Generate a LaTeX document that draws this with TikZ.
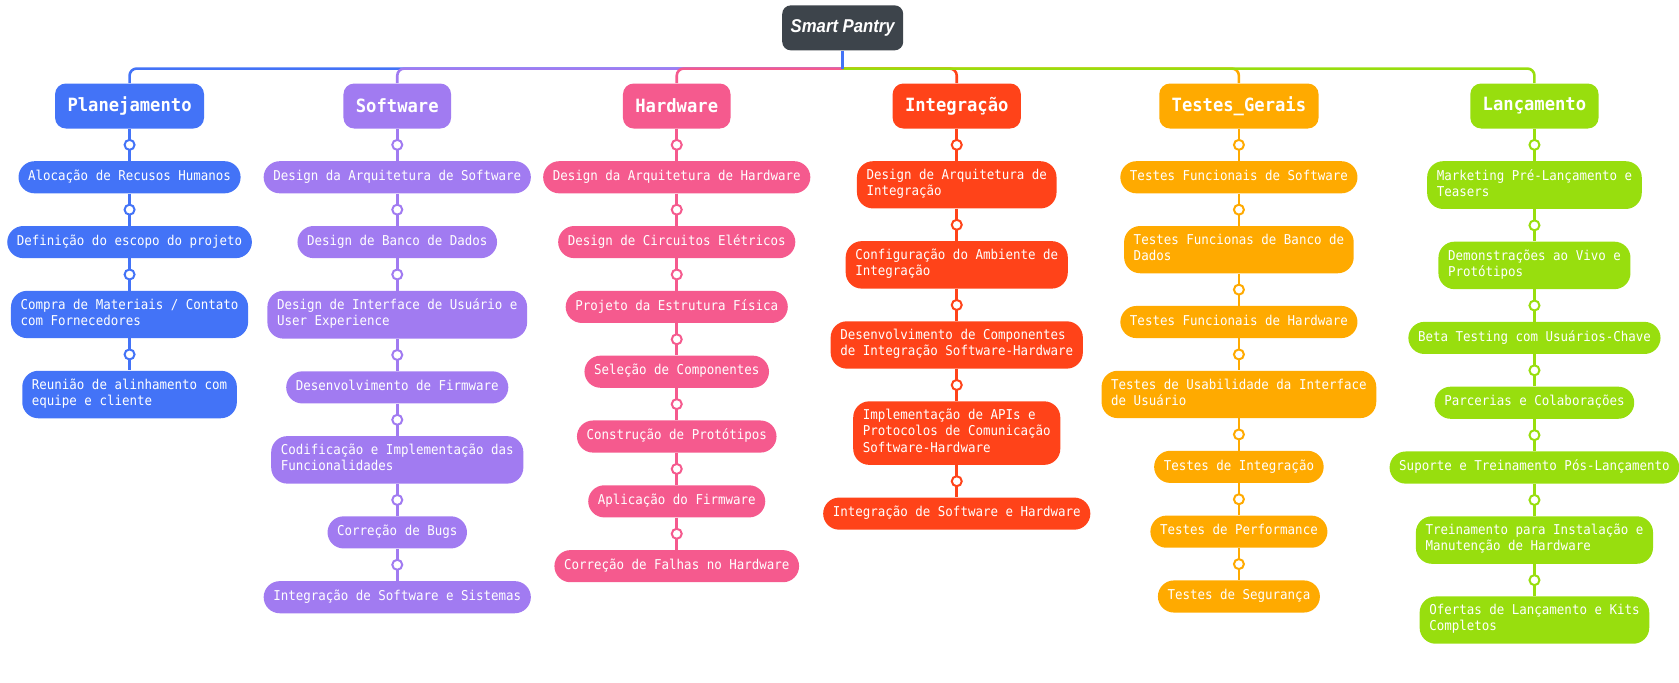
\documentclass[tikz,border=0pt]{standalone}
\usepackage{fontspec}
\setmonofont{DejaVu Sans Mono}
\newfontfamily\pantryfont[FakeStretch=0.9]{Liberation Sans}
\newfontfamily\taskfont[FakeStretch=0.92]{DejaVu Sans Mono}
\newfontfamily\headfont[FakeStretch=0.94]{DejaVu Sans Mono}
\usetikzlibrary{positioning}

\definecolor{pantrygray}{HTML}{3D444B}
\definecolor{plblue}{HTML}{4373F7}
\definecolor{swpurple}{HTML}{A17BF1}
\definecolor{hwpink}{HTML}{F55A8E}
\definecolor{inred}{HTML}{FF4319}
\definecolor{tsorange}{HTML}{FFAA00}
\definecolor{lcgreen}{HTML}{98DE0E}

\begin{document}
\begin{tikzpicture}[x=0.75pt,y=-0.75pt,node distance=22.5pt,
    root/.style={fill=pantrygray,text=white,rounded corners=6pt,minimum width=84.75pt,
        minimum height=31.5pt,font=\pantryfont\bfseries\itshape\fontsize{13}{15}\selectfont},
    head/.style={fill=#1,text=white,rounded corners=7.5pt,minimum height=31.5pt,
        inner xsep=8.7pt,font=\headfont\bfseries\fontsize{12.8}{14}\selectfont},
    task/.style={fill=#1,text=white,rounded corners=11.25pt,align=left,inner xsep=6.75pt,
        inner ysep=5.625pt,font=\taskfont\fontsize{9.5}{11.25}\selectfont,
        execute at begin node=\strut,execute at end node=\strut},
    knot/.style={circle,draw=#1,fill=white,line width=1.4pt,minimum size=7pt,inner sep=0pt},
    link/.style={draw=#1,line width=1.8pt},
    bus/.style={draw=#1,line width=1.8pt,rounded corners=5pt}]

  \useasboundingbox (0,0) rectangle (1568,637);

  \node[root] (sp) at (787,26) {Smart Pantry};
  \coordinate (hub) at (787,64);

  % Planejamento
  \node[head=plblue] (p0) at (121,99) {Planejamento};
  \node[task=plblue] (p1) [below=of p0] {Alocação de Recusos Humanos};
  \node[task=plblue] (p2) [below=of p1] {Definição do escopo do projeto};
  \node[task=plblue] (p3) [below=of p2] {Compra de Materiais / Contato\\com Fornecedores};
  \node[task=plblue] (p4) [below=of p3] {Reunião de alinhamento com\\equipe e cliente};

  % Software
  \node[head=swpurple] (s0) at (371,99) {Software};
  \node[task=swpurple] (s1) [below=of s0] {Design da Arquitetura de Software};
  \node[task=swpurple] (s2) [below=of s1] {Design de Banco de Dados};
  \node[task=swpurple] (s3) [below=of s2] {Design de Interface de Usuário e\\User Experience};
  \node[task=swpurple] (s4) [below=of s3] {Desenvolvimento de Firmware};
  \node[task=swpurple] (s5) [below=of s4] {Codificação e Implementação das\\Funcionalidades};
  \node[task=swpurple] (s6) [below=of s5] {Correção de Bugs};
  \node[task=swpurple] (s7) [below=of s6] {Integração de Software e Sistemas};

  % Hardware
  \node[head=hwpink] (h0) at (632,99) {Hardware};
  \node[task=hwpink] (h1) [below=of h0] {Design da Arquitetura de Hardware};
  \node[task=hwpink] (h2) [below=of h1] {Design de Circuitos Elétricos};
  \node[task=hwpink] (h3) [below=of h2] {Projeto da Estrutura Física};
  \node[task=hwpink] (h4) [below=of h3] {Seleção de Componentes};
  \node[task=hwpink] (h5) [below=of h4] {Construção de Protótipos};
  \node[task=hwpink] (h6) [below=of h5] {Aplicação do Firmware};
  \node[task=hwpink] (h7) [below=of h6] {Correção de Falhas no Hardware};

  % Integracao
  \node[head=inred] (i0) at (893.5,99) {Integração};
  \node[task=inred] (i1) [below=of i0] {Design de Arquitetura de\\Integração};
  \node[task=inred] (i2) [below=of i1] {Configuração do Ambiente de\\Integração};
  \node[task=inred] (i3) [below=of i2] {Desenvolvimento de Componentes\\de Integração Software-Hardware};
  \node[task=inred] (i4) [below=of i3] {Implementação de APIs e\\Protocolos de Comunicação\\Software-Hardware};
  \node[task=inred] (i5) [below=of i4] {Integração de Software e Hardware};

  % Testes_Gerais
  \node[head=tsorange] (t0) at (1157,99) {Testes\_Gerais};
  \node[task=tsorange] (t1) [below=of t0] {Testes Funcionais de Software};
  \node[task=tsorange] (t2) [below=of t1] {Testes Funcionas de Banco de\\Dados};
  \node[task=tsorange] (t3) [below=of t2] {Testes Funcionais de Hardware};
  \node[task=tsorange] (t4) [below=of t3] {Testes de Usabilidade da Interface\\de Usuário};
  \node[task=tsorange] (t5) [below=of t4] {Testes de Integração};
  \node[task=tsorange] (t6) [below=of t5] {Testes de Performance};
  \node[task=tsorange] (t7) [below=of t6] {Testes de Segurança};

  % Lancamento
  \node[head=lcgreen] (l0) at (1433,99) {Lançamento};
  \node[task=lcgreen] (l1) [below=of l0] {Marketing Pré-Lançamento e\\Teasers};
  \node[task=lcgreen] (l2) [below=of l1] {Demonstrações ao Vivo e\\Protótipos};
  \node[task=lcgreen] (l3) [below=of l2] {Beta Testing com Usuários-Chave};
  \node[task=lcgreen] (l4) [below=of l3] {Parcerias e Colaborações};
  \node[task=lcgreen] (l5) [below=of l4] {Suporte e Treinamento Pós-Lançamento};
  \node[task=lcgreen] (l6) [below=of l5] {Treinamento para Instalação e\\Manutenção de Hardware};
  \node[task=lcgreen] (l7) [below=of l6] {Ofertas de Lançamento e Kits\\Completos};

  % bus from the root
  \draw[bus=plblue] (hub) -| (p0);
  \draw[bus=swpurple] (hub) -| (s0);
  \draw[bus=hwpink] (hub) -| (h0);
  \draw[bus=inred] (hub) -| (i0);
  \draw[bus=tsorange] (hub) -| (t0);
  \draw[bus=lcgreen] (hub) -| (l0);
  \draw[link=plblue] (sp) -- (hub);

  \path (p0) edge[link=plblue] node[knot=plblue] {} (p1)
        (p1) edge[link=plblue] node[knot=plblue] {} (p2)
        (p2) edge[link=plblue] node[knot=plblue] {} (p3)
        (p3) edge[link=plblue] node[knot=plblue] {} (p4);

  \path (s0) edge[link=swpurple] node[knot=swpurple] {} (s1)
        (s1) edge[link=swpurple] node[knot=swpurple] {} (s2)
        (s2) edge[link=swpurple] node[knot=swpurple] {} (s3)
        (s3) edge[link=swpurple] node[knot=swpurple] {} (s4)
        (s4) edge[link=swpurple] node[knot=swpurple] {} (s5)
        (s5) edge[link=swpurple] node[knot=swpurple] {} (s6)
        (s6) edge[link=swpurple] node[knot=swpurple] {} (s7);

  \path (h0) edge[link=hwpink] node[knot=hwpink] {} (h1)
        (h1) edge[link=hwpink] node[knot=hwpink] {} (h2)
        (h2) edge[link=hwpink] node[knot=hwpink] {} (h3)
        (h3) edge[link=hwpink] node[knot=hwpink] {} (h4)
        (h4) edge[link=hwpink] node[knot=hwpink] {} (h5)
        (h5) edge[link=hwpink] node[knot=hwpink] {} (h6)
        (h6) edge[link=hwpink] node[knot=hwpink] {} (h7);

  \path (i0) edge[link=inred] node[knot=inred] {} (i1)
        (i1) edge[link=inred] node[knot=inred] {} (i2)
        (i2) edge[link=inred] node[knot=inred] {} (i3)
        (i3) edge[link=inred] node[knot=inred] {} (i4)
        (i4) edge[link=inred] node[knot=inred] {} (i5);

  \path (t0) edge[link=tsorange] node[knot=tsorange] {} (t1)
        (t1) edge[link=tsorange] node[knot=tsorange] {} (t2)
        (t2) edge[link=tsorange] node[knot=tsorange] {} (t3)
        (t3) edge[link=tsorange] node[knot=tsorange] {} (t4)
        (t4) edge[link=tsorange] node[knot=tsorange] {} (t5)
        (t5) edge[link=tsorange] node[knot=tsorange] {} (t6)
        (t6) edge[link=tsorange] node[knot=tsorange] {} (t7);

  \path (l0) edge[link=lcgreen] node[knot=lcgreen] {} (l1)
        (l1) edge[link=lcgreen] node[knot=lcgreen] {} (l2)
        (l2) edge[link=lcgreen] node[knot=lcgreen] {} (l3)
        (l3) edge[link=lcgreen] node[knot=lcgreen] {} (l4)
        (l4) edge[link=lcgreen] node[knot=lcgreen] {} (l5)
        (l5) edge[link=lcgreen] node[knot=lcgreen] {} (l6)
        (l6) edge[link=lcgreen] node[knot=lcgreen] {} (l7);

\end{tikzpicture}
\end{document}
